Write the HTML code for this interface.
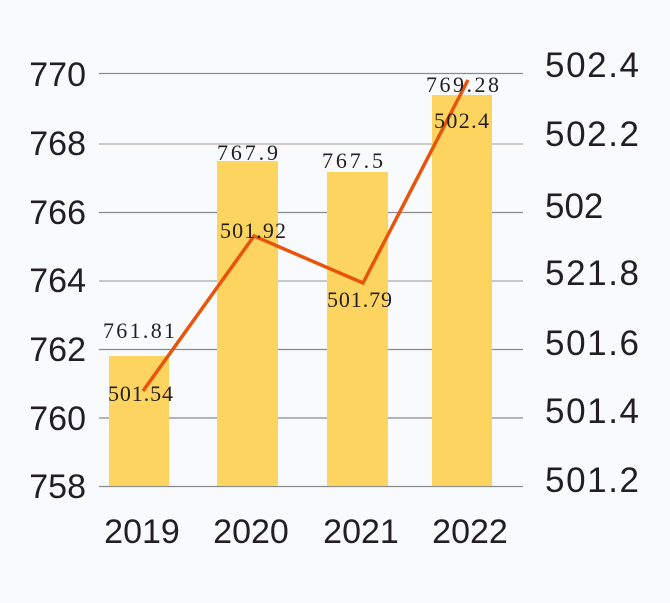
<!DOCTYPE html>
<html><head><style>
body{margin:0;background:#f9fafc;}
svg{display:block}
.ax{font-family:"Liberation Sans",sans-serif;font-size:34px;fill:#231f20}
.v{font-family:"Liberation Serif",serif;font-size:22px;fill:#231f20}
</style></head><body>
<svg width="670" height="603" viewBox="0 0 670 603">
<rect width="670" height="603" fill="#f9fafc"/>
<g stroke="#8a8a8a" stroke-width="1.2">
<line x1="99" y1="73.5" x2="523" y2="73.5"/>
<line x1="99" y1="144" x2="523" y2="144" stroke="#cfcbc8" stroke-width="2"/>
<line x1="99" y1="212.5" x2="523" y2="212.5"/>
<line x1="99" y1="281" x2="523" y2="281" stroke="#aaa"/>
<line x1="99" y1="349.5" x2="523" y2="349.5"/>
<line x1="99" y1="418" x2="523" y2="418"/>
<line x1="99" y1="486.5" x2="523" y2="486.5"/>
</g>
<g fill="#fcd45f">
<rect x="109" y="356" width="60" height="130"/>
<rect x="217" y="161" width="61" height="325"/>
<rect x="327" y="172" width="61" height="314"/>
<rect x="432" y="95" width="60" height="391"/>
</g>
<polyline points="143,391 254,236 363,283 468,80" fill="none" stroke="#e8540c" stroke-width="3.5"/>
<g class="v" lengthAdjust="spacing">
<text x="103" y="338" textLength="72">761.81</text>
<text x="108" y="401" textLength="65">501.54</text>
<text x="217" y="160" textLength="61">767.9</text>
<text x="220" y="238" textLength="66">501.92</text>
<text x="322" y="168" textLength="61">767.5</text>
<text x="327" y="307" textLength="65">501.79</text>
<text x="426" y="92" textLength="73">769.28</text>
<text x="434" y="128" textLength="55">502.4</text>
</g>
<g class="ax" text-anchor="end">
<text x="86" y="86">770</text>
<text x="86" y="155">768</text>
<text x="86" y="224">766</text>
<text x="86" y="292">764</text>
<text x="86" y="361">762</text>
<text x="86" y="430">760</text>
<text x="86" y="498">758</text>
</g>
<g class="ax" style="font-size:35px">
<text x="545" y="77" textLength="94">502.4</text>
<text x="545" y="146" textLength="94">502.2</text>
<text x="545" y="218">502</text>
<text x="545" y="285" textLength="94">521.8</text>
<text x="545" y="355" textLength="94">501.6</text>
<text x="545" y="423" textLength="94">501.4</text>
<text x="545" y="492" textLength="94">501.2</text>
</g>
<g class="ax" text-anchor="middle">
<text x="142" y="543">2019</text>
<text x="251" y="543">2020</text>
<text x="361" y="543">2021</text>
<text x="470" y="543">2022</text>
</g>
</svg>
</body></html>
